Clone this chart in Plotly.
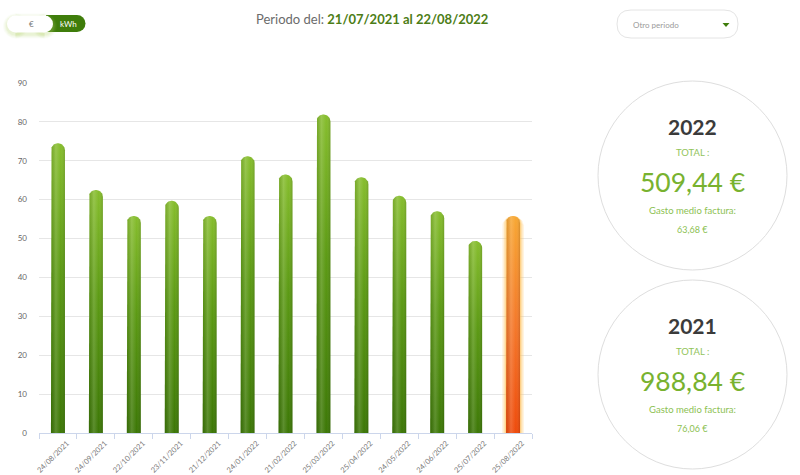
import numpy as np
import plotly.graph_objects as go

# Invoice consumption per billing date
fechas = ["24/08/2021", "24/09/2021", "22/10/2021", "23/11/2021", "21/12/2021",
          "24/01/2022", "21/02/2022", "25/03/2022", "25/04/2022", "24/05/2022",
          "24/06/2022", "25/07/2022", "25/08/2022"]
valores = [74.5, 62.5, 55.8, 59.7, 55.8, 71.2, 66.5, 81.9, 65.8, 61.0, 57.0, 49.4, 55.8]
actual = [False] * 12 + [True]   # last bill (still open) is highlighted

y_ticks = [0, 10, 20, 30, 40, 50, 60, 70, 80, 90]

resumen = [
    {"anio": "2022", "total": "509,44 €", "medio": "63,68 €"},
    {"anio": "2021", "total": "988,84 €", "medio": "76,06 €"},
]

W, H = 800, 475
L, T, R, B = 39, 83, 532, 433          # plot area in pixels
FONT = "Lato"

def px(x):
    return (x - L) / (R - L)

def py(y):
    return (B - y) / (B - T)

def label(x, y, text, size, color, xanchor="center"):
    return dict(x=px(x), y=py(y), xref="paper", yref="paper", text=text, showarrow=False,
                xanchor=xanchor, yanchor="middle",
                font=dict(family=FONT, size=size, color=color))

n = len(fechas)
x_unit = (R - L) / n          # pixels per category
y_unit = (B - T) / 90.0       # pixels per value unit
half_w = 7.0 / x_unit          # bar half width (7 px)
cap_y = 7.0 / y_unit           # cap radius in value units

def outline(i, v, grow_px=0.0):
    hw = half_w + grow_px / x_unit
    ry = cap_y + grow_px / y_unit
    base = -grow_px / y_unit if grow_px else 0
    t = np.linspace(np.pi, 0, 24)
    xs = [i - hw] + list(i + hw * np.cos(t)) + [i + hw, i - hw]
    ys = [base] + list(v - ry + ry * np.sin(t)) + [base, base]
    return xs, ys

fig = go.Figure()

for i, (v, hot) in enumerate(zip(valores, actual)):
    xs, ys = outline(i, v)
    if hot:
        for g, a in ((4, 0.18), (2.5, 0.3), (1.2, 0.45)):
            gx, gy = outline(i, v, g)
            fig.add_trace(go.Scatter(x=gx, y=gy, mode="lines", fill="toself",
                                     line=dict(width=0), fillcolor=f"rgba(255,196,90,{a})",
                                     hoverinfo="skip", showlegend=False))
        scale = [[0, "#ee4a0b"], [0.5, "#f4782a"], [1, "#f7a733"]]
    else:
        scale = [[0, "#3c7706"], [0.55, "#5c9a14"], [1, "#86bd2d"]]
    fig.add_trace(go.Scatter(x=xs, y=ys, mode="lines", fill="toself",
                             line=dict(width=0, color=scale[1][1]),
                             fillgradient=dict(type="vertical", colorscale=scale),
                             name=fechas[i], hovertemplate=f"{fechas[i]}: {v}<extra></extra>",
                             showlegend=False))
    # cylindrical shading across the bar
    fig.add_trace(go.Scatter(x=xs, y=ys, mode="lines", fill="toself",
                             line=dict(width=0, color="rgba(0,0,0,0)"),
                             fillgradient=dict(type="horizontal", colorscale=[
                                 [0, "rgba(0,0,0,0.10)"], [0.35, "rgba(255,255,255,0.16)"],
                                 [0.7, "rgba(255,255,255,0.0)"], [1, "rgba(0,0,0,0.14)"]]),
                             hoverinfo="skip", showlegend=False))

shapes = []
annotations = []

def rect(x0, y0, x1, y1, color, **kw):
    return dict(type="rect", xref="paper", yref="paper", x0=px(x0), x1=px(x1),
                y0=py(y1), y1=py(y0), fillcolor=color, line_width=0, layer="above", **kw)

def disc(cx, cy, r, color):
    return dict(type="circle", xref="paper", yref="paper", x0=px(cx - r), x1=px(cx + r),
                y0=py(cy + r), y1=py(cy - r), fillcolor=color, line_width=0, layer="above")

# kWh / € toggle: green track, white knob with a soft green glow
shapes.append(rect(46, 15, 77, 32, "#3f7d0b"))
shapes.append(disc(77, 23.5, 8.5, "#3f7d0b"))
for g, a in ((4, 0.05), (3, 0.07), (2, 0.09), (1, 0.11)):
    shapes.append(disc(15.5, 26, 8.5 + g, f"rgba(185,215,110,{a})"))
    shapes.append(disc(44.5, 26, 8.5 + g, f"rgba(185,215,110,{a})"))
    shapes.append(rect(15.5, 17.5 - g, 44.5, 34.5 + g, f"rgba(185,215,110,{a})"))
shapes.append(disc(15.5, 24, 8.5, "#ffffff"))
shapes.append(disc(44.5, 24, 8.5, "#ffffff"))
shapes.append(rect(15.5, 15.5, 44.5, 32.5, "#ffffff"))
annotations.append(label(31, 24, "€", 8, "#777"))
annotations.append(label(68, 24, "kWh", 8, "#ffffff"))

# Period title
annotations.append(label(
    372, 19.5,
    "<span style='color:#6b6b6b'>Periodo del: </span><b>21/07/2021 al 22/08/2022</b>",
    13, "#4c7d16"))

# "Otro periodo" dropdown
x0d, x1d, y0d, y1d = 617, 738, 10, 38
rd = (y1d - y0d) / 2
shapes.append(dict(type="path", xref="paper", yref="paper", layer="above",
                   path=(f"M {px(x0d + rd)},{py(y0d)} L {px(x1d - rd)},{py(y0d)} "
                         f"Q {px(x1d)},{py(y0d)} {px(x1d)},{py(y0d + rd)} "
                         f"Q {px(x1d)},{py(y1d)} {px(x1d - rd)},{py(y1d)} "
                         f"L {px(x0d + rd)},{py(y1d)} "
                         f"Q {px(x0d)},{py(y1d)} {px(x0d)},{py(y0d + rd)} "
                         f"Q {px(x0d)},{py(y0d)} {px(x0d + rd)},{py(y0d)} Z"),
                   line=dict(color="#e4e4e4", width=1), fillcolor="#ffffff"))
annotations.append(label(631, 24.5, "Otro periodo", 8, "#9a9a9a", xanchor="left"))
shapes.append(dict(type="path", xref="paper", yref="paper", layer="above",
                   path=f"M {px(722.5)},{py(23)} L {px(729.5)},{py(23)} L {px(726)},{py(27)} Z",
                   fillcolor="#3f7d0b", line_width=0))

# Yearly summary circles
for item, top in zip(resumen, (81, 280)):
    cx, r = 692.5, 94.5
    cy = top + r
    shapes.append(dict(type="circle", xref="paper", yref="paper",
                       x0=px(cx - r), x1=px(cx + r), y0=py(cy + r), y1=py(cy - r),
                       line=dict(color="#dedede", width=1), fillcolor="rgba(0,0,0,0)",
                       layer="below"))
    rows = [
        ("<b>" + item["anio"] + "</b>", -49.5, 21, "#3b3b3b"),
        ("TOTAL :", -23.5, 9.5, "#92c45a"),
        (item["total"], 6.5, 26.5, "#78b22f"),
        ("Gasto medio factura:", 35, 9.5, "#8cc152"),
        (item["medio"], 53.5, 9, "#8cc152"),
    ]
    for txt, dy, size, color in rows:
        annotations.append(label(cx, cy + dy, txt, size, color))

fig.update_layout(
    width=W, height=H,
    margin=dict(l=L, r=W - R, t=T, b=H - B, pad=0, autoexpand=False),
    paper_bgcolor="#ffffff", plot_bgcolor="#ffffff",
    shapes=shapes, annotations=annotations,
    font=dict(family=FONT, color="#666"),
    xaxis=dict(range=[-0.5, n - 0.5], tickmode="array", tickvals=list(range(n)), ticktext=fechas,
               tickangle=-45, tickfont=dict(size=7.5, color="#777"), showgrid=False,
               zeroline=False, showline=True, linecolor="#ccd6eb", linewidth=1, ticks="",
               ticklabelshift=9, ticklabelstandoff=2, automargin=False,
               minor=dict(tickmode="array", tickvals=[i - 0.5 for i in range(n + 1)],
                          ticks="outside", ticklen=5, tickcolor="#ccd6eb", showgrid=False),
               fixedrange=True),
    yaxis=dict(range=[0, 90], tickmode="array", tickvals=y_ticks, showgrid=True,
               gridcolor="#e6e6e6", gridwidth=1, zeroline=False, showline=False,
               tickfont=dict(size=8, color="#666"), ticklabelstandoff=11, automargin=False,
               fixedrange=True),
)

fig.write_html("out.html")
